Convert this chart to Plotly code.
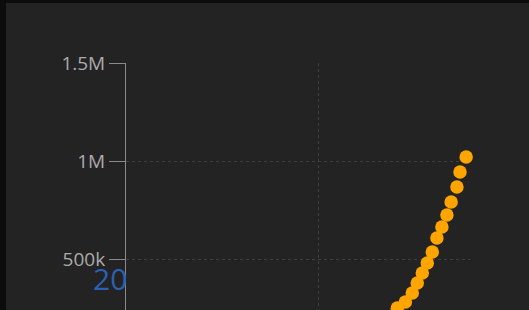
import plotly.graph_objects as go

# Data
x_vals = [66.9, 68.7, 70.5, 72.6, 74.4, 75.7, 77.0, 78.3, 79.6, 80.8, 82.1, 83.4, 84.5, 86.0, 86.8, 88.4]
y_vals = [180000, 215000, 250000, 281000, 327000, 378000, 429000, 480000, 536000, 607000, 663000, 724000, 791000, 867000, 944000, 1020000]
y_tick_vals = [500000, 1000000, 1500000]
y_tick_text = ["500k", "1M", "1.5M"]
overlay_label = "20"

W, H = 529, 310
ML, MR, MT, MB = 126, 59, 63, 0
pw = W - ML - MR
ph = H - MT - MB

def px_x(p):
    return (p - ML) / pw

def px_y(p):
    return (H - MB - p) / ph

fig = go.Figure()
fig.add_trace(go.Scatter(
    x=x_vals, y=y_vals, mode="markers", cliponaxis=False,
    marker=dict(color="#FFA500", size=13.5, line=dict(width=0)),
    hoverinfo="skip", showlegend=False,
))

fig.update_layout(
    width=W, height=H,
    margin=dict(l=ML, r=MR, t=MT, b=MB, pad=0),
    paper_bgcolor="#0c0c0c",
    plot_bgcolor="#232323",
    font=dict(family="Open Sans", color="#ababab", size=19),
    shapes=[dict(
        type="rect", xref="paper", yref="paper", layer="below",
        x0=px_x(6), x1=px_x(529), y0=px_y(310), y1=px_y(3),
        fillcolor="#232323", line=dict(width=0),
    )],
    annotations=[dict(
        text=overlay_label, xref="paper", yref="paper",
        x=px_x(110), y=px_y(278), showarrow=False,
        font=dict(family="Open Sans", size=30, color="#2d5fb3"),
        xanchor="center", yanchor="middle",
    )],
)

fig.update_xaxes(
    range=[0, 89.4], tickvals=[50], showticklabels=False, ticks="",
    showgrid=True, gridcolor="#3e3e3e", griddash="dot", gridwidth=1,
    zeroline=False, showline=False,
)
fig.update_yaxes(
    range=[239800, 1500000], tickvals=y_tick_vals, ticktext=y_tick_text,
    ticks="outside", ticklen=16, tickcolor="#8a8a8a", tickwidth=1,
    showline=True, linecolor="#8a8a8a", linewidth=1,
    showgrid=True, gridcolor="#3e3e3e", griddash="dot", gridwidth=1,
    zeroline=False, tickfont=dict(color="#ababab", size=19),
)

fig.write_html(
    "out.html",
    config={"displayModeBar": False, "staticPlot": True},
    post_script="document.body.style.margin='0px';document.body.style.background='#0c0c0c';",
)
